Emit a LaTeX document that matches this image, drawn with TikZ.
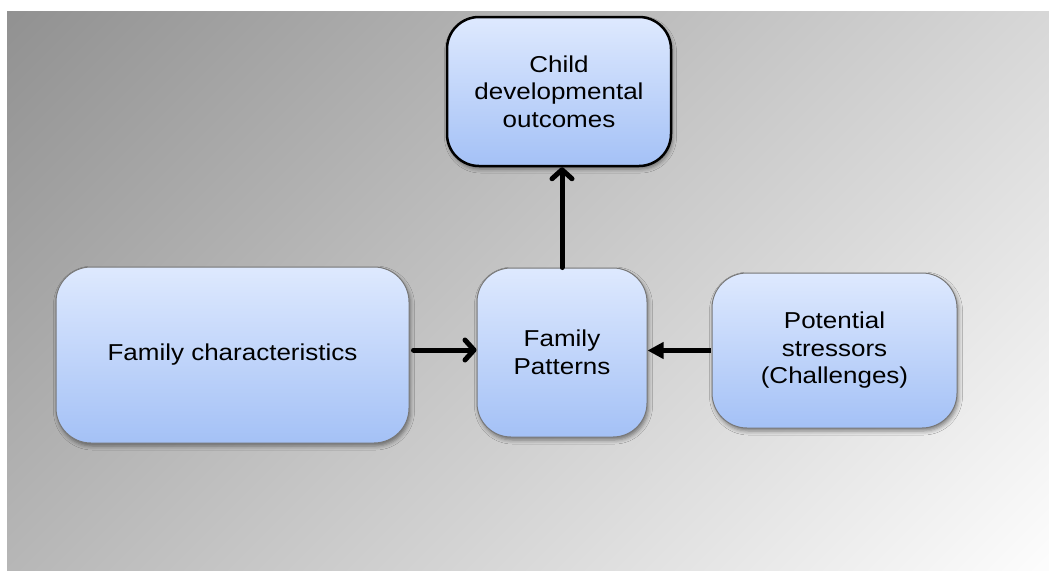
\documentclass[tikz,border=0pt]{standalone}
\usepackage{fontspec}
\setmainfont{Liberation Sans}[FakeStretch=1.13]
\usetikzlibrary{arrows.meta,shadows.blur}

% Diagonal grey backdrop: dark at the top left, almost white at the bottom right
\pgfdeclareverticalshading{backdrop}{100bp}{%
  color(0bp)=(white!99!black);
  color(14.6bp)=(white!99!black);
  color(85.4bp)=(white!57!black);
  color(100bp)=(white!57!black)}

\definecolor{boxtop}{RGB}{222,233,254}
\definecolor{boxbottom}{RGB}{164,193,246}
\definecolor{boxrim}{RGB}{120,120,120}

\tikzset{
  panel/.style={
    rectangle, rounded corners=32pt, align=center,
    top color=boxtop, bottom color=boxbottom,
    draw=boxrim, line width=1pt,
    font=\fontsize{23pt}{27.5pt}\selectfont,
    blur shadow={shadow xshift=1.5pt, shadow yshift=-3pt,
                 shadow blur radius=4pt, shadow opacity=45},
    inner sep=0pt},
  goal/.style={panel, draw=black, line width=2.5pt},
  barb/.style={line width=5pt, line cap=round,
    -{Straight Barb[length=9pt, width=20pt, line cap=round, line join=round]}},
  solid tip/.style={line width=5pt,
    -{Triangle[length=16pt, width=16pt]}}
}

\begin{document}
\begin{tikzpicture}[x=1pt, y=-1pt]
  \useasboundingbox (0,0) rectangle (1049,570);
  \shade[shading=backdrop, shading angle=45] (7,11) rectangle (1049,570);

  \node[goal, minimum width=224pt, minimum height=149pt] (child)
    at (559,91.5) {Child\\developmental\\outcomes};
  \node[panel, rounded corners=35pt, minimum width=353pt, minimum height=176pt] (traits)
    at (232.5,355) {Family characteristics};
  \node[panel, rounded corners=34pt, minimum width=170pt, minimum height=169pt] (patterns)
    at (562,352.5) {Family\\Patterns};
  \node[panel, rounded corners=35pt, minimum width=245pt, minimum height=155pt] (stress)
    at (834.5,350.5) {Potential\\stressors\\(Challenges)};

  \draw[barb] ([xshift=4pt, yshift=5pt]traits.east) -- ([yshift=2.5pt]patterns.west);
  \draw[solid tip] ([xshift=-1pt]stress.west) -- (patterns.east |- stress.west);
  \draw[barb] (patterns.north) -- (patterns.north |- child.south);
\end{tikzpicture}
\end{document}
